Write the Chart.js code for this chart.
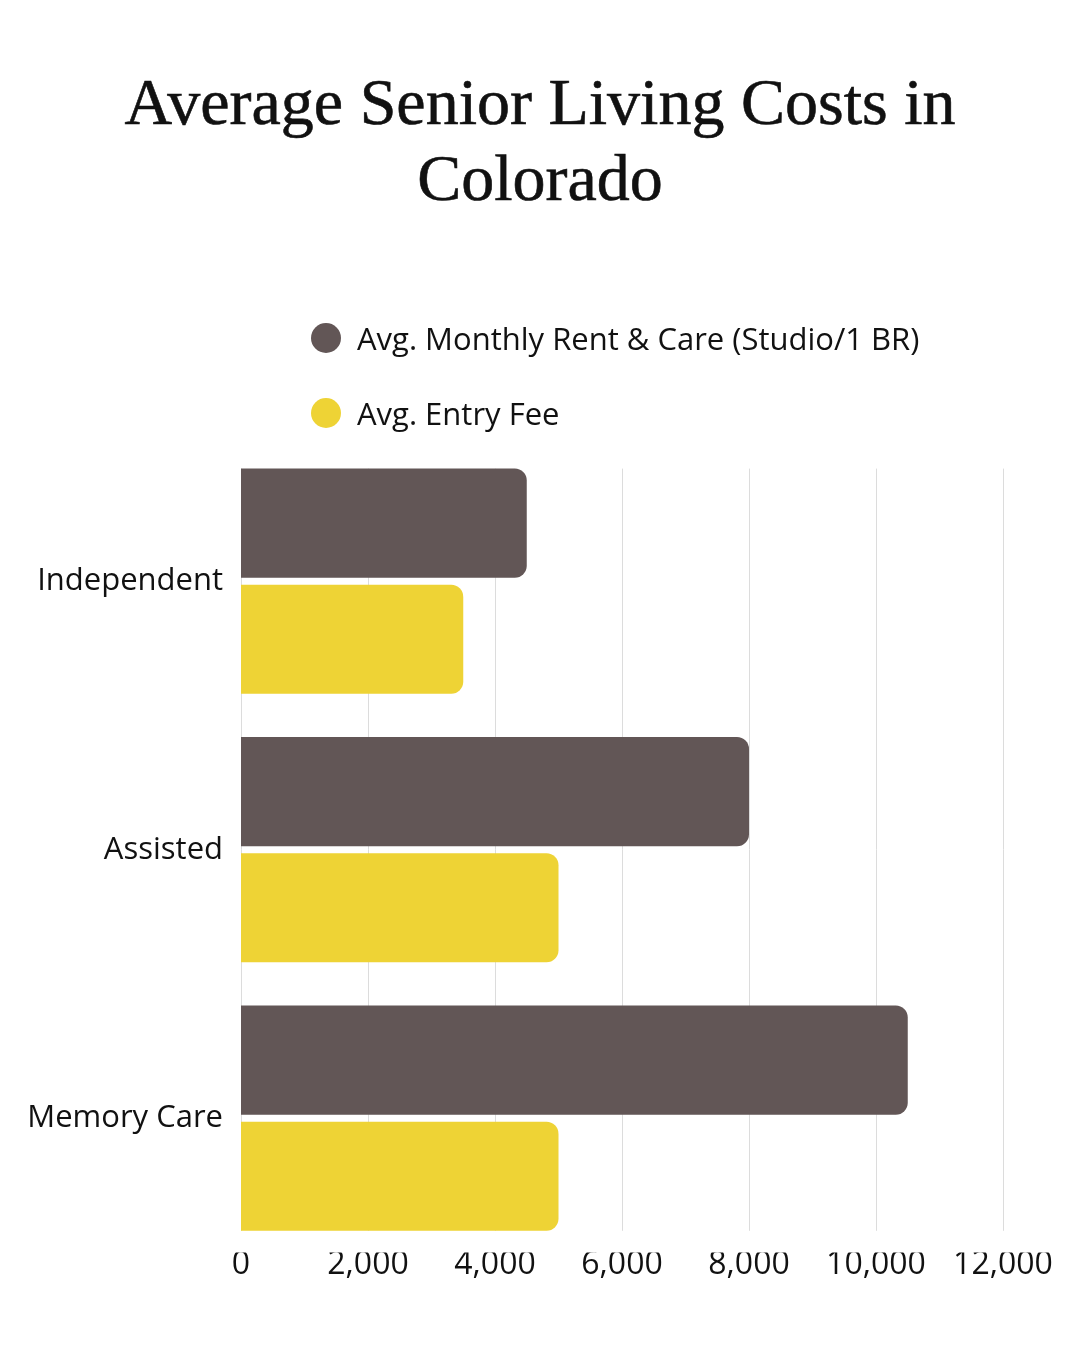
<!DOCTYPE html>
<html lang="en">
<head>
<meta charset="utf-8">
<title>Average Senior Living Costs in Colorado</title>
<script src="https://cdn.jsdelivr.net/npm/chart.js@4"></script>
<style>
  html, body { margin: 0; padding: 0; background: #ffffff; }
  #contenedor { position: relative; width: 1080px; height: 1350px; }
  #myChart { position: absolute; left: 0; top: 0; }
  #titulo { position: absolute; left: 0; top: 64px; width: 1080px; text-align: center;
            font-family: "Liberation Serif", serif; font-size: 66px; line-height: 76px; color: #111;
            -webkit-text-stroke: 0.6px #111; }
  #leyenda { position: absolute; left: 311px; top: 300px; font-family: "Open Sans", sans-serif; font-size: 31px; color: #111; }
  .item { display: flex; align-items: center; height: 75px; }
  .punto { width: 30px; height: 30px; border-radius: 50%; margin-right: 16px; flex: none; }
</style>
</head>
<body>
<div id="contenedor">
  <canvas id="myChart" width="1080" height="1350"></canvas>
  <div id="titulo">Average Senior Living Costs in<br>Colorado</div>
  <div id="leyenda"></div>
</div>
<script>
// Datos
const categorias = ['Independent', 'Assisted', 'Memory Care'];
const rentaMensual = [4500, 8000, 10500];
const cuotaEntrada = [3500, 5000, 5000];
const etiquetasSeries = ['Avg. Monthly Rent & Care (Studio/1 BR)', 'Avg. Entry Fee'];
const coloresSeries = ['#625656', '#EED335'];

// Líneas verticales de la escala, sólo a la altura de las barras
const lineasGuia = {
    id: 'lineasGuia',
    beforeDatasetsDraw(chart) {
        const { ctx, scales: { x } } = chart;
        const primera = chart.getDatasetMeta(0).data[0];
        const ultima = chart.getDatasetMeta(1).data[categorias.length - 1];
        const arriba = primera.y - primera.height / 2;
        const abajo = ultima.y + ultima.height / 2;
        ctx.save();
        ctx.strokeStyle = '#dcdcdc';
        ctx.lineWidth = 1;
        x.ticks.forEach(t => {
            const px = Math.round(x.getPixelForValue(t.value)) + 0.5;
            ctx.beginPath();
            ctx.moveTo(px, arriba);
            ctx.lineTo(px, abajo);
            ctx.stroke();
        });
        ctx.restore();
    }
};

let myChart;

function crearGrafico() {
    const ctx = document.getElementById('myChart').getContext('2d');
    myChart = new Chart(ctx, {
        type: 'bar',
        data: {
            labels: categorias,
            datasets: [{
                label: etiquetasSeries[0],
                data: rentaMensual,
                backgroundColor: coloresSeries[0],
                borderRadius: 12,
                borderSkipped: 'start'
            }, {
                label: etiquetasSeries[1],
                data: cuotaEntrada,
                backgroundColor: coloresSeries[1],
                borderRadius: 12,
                borderSkipped: 'start'
            }]
        },
        options: {
            indexAxis: 'y',
            responsive: false,
            animation: false,
            devicePixelRatio: 1,
            categoryPercentage: 0.865,
            barPercentage: 0.94,
            layout: {
                padding: { left: 30, right: 77, top: 447, bottom: 72 }
            },
            plugins: {
                legend: { display: false },
                tooltip: { enabled: false }
            },
            scales: {
                x: {
                    min: 0,
                    max: 12000,
                    grid: { display: false, drawTicks: false },
                    border: { display: false },
                    ticks: {
                        stepSize: 2000,
                        padding: 0,
                        color: '#111111',
                        font: { family: '"Open Sans", sans-serif', size: 32, lineHeight: 0.8 },
                        callback: v => v.toLocaleString('en-US')
                    }
                },
                y: {
                    grid: { display: false, drawTicks: false },
                    border: { display: false },
                    ticks: {
                        padding: 18,
                        color: '#111111',
                        font: { family: '"Open Sans", sans-serif', size: 31 }
                    },
                    afterFit: (scale) => { scale.width = 211; }
                }
            }
        },
        plugins: [lineasGuia]
    });
}

// Leyenda en HTML a partir de las series
function crearLeyenda() {
    const caja = document.getElementById('leyenda');
    etiquetasSeries.forEach((texto, i) => {
        const fila = document.createElement('div');
        fila.className = 'item';
        const punto = document.createElement('span');
        punto.className = 'punto';
        punto.style.background = coloresSeries[i];
        const etiqueta = document.createElement('span');
        etiqueta.textContent = texto;
        fila.appendChild(punto);
        fila.appendChild(etiqueta);
        caja.appendChild(fila);
    });
}

crearGrafico();
crearLeyenda();
</script>
</body>
</html>
